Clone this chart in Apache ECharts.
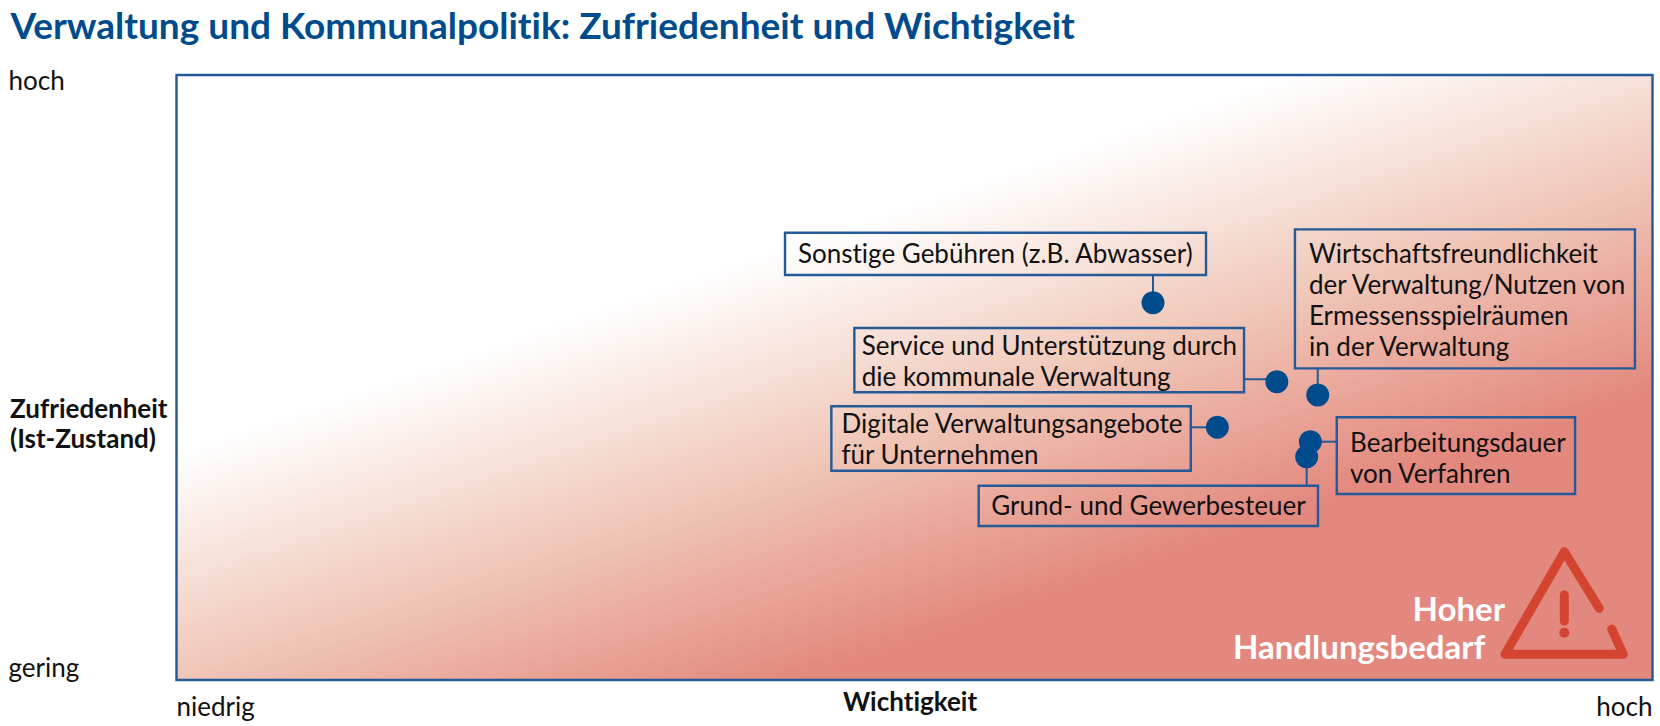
<!DOCTYPE html>
<html><head><meta charset="utf-8">
<style>html,body{margin:0;padding:0;background:#fff}#c{width:1660px;height:726px}
#c svg text{font-variant-ligatures:none;font-feature-settings:"liga" 0}</style>
<script src="https://cdn.jsdelivr.net/npm/echarts@6/dist/echarts.min.js"></script>
</head><body><div id="c"></div>
<script>
const titleText = 'Verwaltung und Kommunalpolitik: Zufriedenheit und Wichtigkeit';
const pointLabels = [
  'Sonstige Gebühren (z.B. Abwasser)',
  'Service und Unterstützung durch\ndie kommunale Verwaltung',
  'Wirtschaftsfreundlichkeit\nder Verwaltung/Nutzen von\nErmessensspielräumen\nin der Verwaltung',
  'Digitale Verwaltungsangebote\nfür Unternehmen',
  'Bearbeitungsdauer\nvon Verfahren',
  'Grund- und Gewerbesteuer'
];
const importance   = [66.16, 74.55, 77.32, 70.52, 76.82, 76.57];
const satisfaction = [62.36, 49.31, 47.10, 41.77, 39.39, 36.90];
const xTickLabels = ['niedrig', 'hoch'];
const yTickLabels = ['gering', 'hoch'];
const xAxisName = 'Wichtigkeit';
const yAxisName = 'Zufriedenheit\n(Ist-Zustand)';

const NAVY = '#004b8c', BORDER = '#235a97', RED = '#d34431', FONT = 'Lato', FS = 26;
// callout geometry, relative to each point: box [dx, dy, w, h], text inset, text centre dy, leader end [dx, dy] + leader dy
const callouts = [
  {box:[-368,-70,421,42.3],   tx:13,   ty:-49.4, lead:[0,0,0,-28]},
  {box:[-422.5,-53.7,389.7,64.3], tx:7.4, ty:-21.5, lead:[-32.8,-2.5,0,-2.5]},
  {box:[-22.8,-165.7,340,139], tx:14,  ty:-95.5, lead:[0,0,0,-26.7]},
  {box:[-386,-21,359.4,64.4], tx:10,   ty:11.7,  lead:[-26.6,0,0,0]},
  {box:[26.4,-24.4,238.3,76.7], tx:13.3, ty:16,  lead:[0,0,26.4,0]},
  {box:[-328,29,339.3,40.3],  tx:12.6, ty:48.5,  lead:[0,0,0,29]}
];
const points = importance.map((x, i) => [x, satisfaction[i]]);
const chart = echarts.init(document.getElementById('c'), null, {width:1660, height:726, renderer:'svg'});
chart.setOption({
  animation:false,
  title:{text:titleText, left:10.5, top:6, padding:0, textStyle:{fontFamily:FONT, fontWeight:'bold', fontSize:37, color:NAVY}},
  grid:{left:176.5, right:7.5, top:75, bottom:46, show:true, containLabel:false, outerBoundsMode:'none', borderColor:BORDER, borderWidth:2.4,
    backgroundColor:new echarts.graphic.LinearGradient(176.5,452,309.5,845,[
      {offset:0,color:'#ffffff'},{offset:0.5,color:'#f0c8b9'},{offset:1,color:'#e3887e'}],true)},
  xAxis:{type:'value', min:0, max:100, splitLine:{show:false}, axisLine:{show:false}, axisTick:{show:false},
    name:xAxisName, nameLocation:'middle', nameGap:8, nameMoveOverlap:false,
    nameTextStyle:{fontFamily:FONT, fontWeight:'bold', fontSize:FS, color:'#111', padding:[0,9,0,0]},
    axisLabel:{customValues:[0,100], formatter:v=>v===0?xTickLabels[0]:xTickLabels[1], margin:13,
      alignMinLabel:'left', alignMaxLabel:'right', fontFamily:FONT, fontSize:FS, color:'#111'}},
  yAxis:{type:'value', min:0, max:100, splitLine:{show:false}, axisLine:{show:false}, axisTick:{show:false},
    axisLabel:{customValues:[0,100], formatter:v=>v===0?yTickLabels[0]:'{hi|'+yTickLabels[1]+'}', margin:168, align:'left',
      verticalAlignMinLabel:'bottom', verticalAlignMaxLabel:'top', fontFamily:FONT, fontSize:FS, color:'#111',
      rich:{hi:{lineHeight:10, fontFamily:FONT, fontSize:FS, color:'#111'}}}},
  series:[
    {type:'custom', coordinateSystem:'cartesian2d', data:points, z:2, silent:true, clip:false,
      renderItem:(params, api)=>{
        const p = api.coord([api.value(0), api.value(1)]);
        const c = callouts[params.dataIndex];
        return {type:'group', children:[
          {type:'line', shape:{x1:p[0]+c.lead[0],y1:p[1]+c.lead[1],x2:p[0]+c.lead[2],y2:p[1]+c.lead[3]},
            style:{stroke:BORDER,lineWidth:2}},
          {type:'rect', shape:{x:p[0]+c.box[0],y:p[1]+c.box[1],width:c.box[2],height:c.box[3]},
            style:{fill:'rgba(0,0,0,0)',stroke:BORDER,lineWidth:2.4}},
          {type:'text', style:{text:pointLabels[params.dataIndex], x:p[0]+c.box[0]+c.tx, y:p[1]+c.ty,
            fontFamily:FONT, fontSize:FS, lineHeight:31, fill:'#111', align:'left', verticalAlign:'middle'}}
        ]};
      }},
    {type:'scatter', data:points, symbol:'circle', symbolSize:23, itemStyle:{color:NAVY, opacity:1}, z:3, silent:true}
  ],
  graphic:[
    {type:'text', z:5, style:{text:yAxisName, x:10, y:423, align:'left', verticalAlign:'middle',
      fontFamily:FONT, fontWeight:'bold', fontSize:FS, lineHeight:30, fill:'#111'}},
    {type:'text', z:5, style:{text:'Hoher', x:1505, y:608, align:'right', verticalAlign:'middle',
      fontFamily:FONT, fontWeight:'bold', fontSize:33, fill:'#fff'}},
    {type:'text', z:5, style:{text:'Handlungsbedarf', x:1233, y:646, align:'left', verticalAlign:'middle',
      fontFamily:FONT, fontWeight:'bold', fontSize:33, fill:'#fff'}},
    {type:'polyline', z:5, shape:{points:[[1611.7,629],[1623.3,654.3],[1505,654.3],[1564.3,551.7],[1599.3,608.3]]},
      style:{stroke:RED,lineWidth:9,fill:'none',lineCap:'round',lineJoin:'round'}},
    {type:'line', z:5, shape:{x1:1564.3,y1:595,x2:1564.3,y2:621}, style:{stroke:RED,lineWidth:9,lineCap:'round'}},
    {type:'circle', z:5, shape:{cx:1564.3,cy:632.7,r:5}, style:{fill:RED}}
  ]
});
</script></body></html>
